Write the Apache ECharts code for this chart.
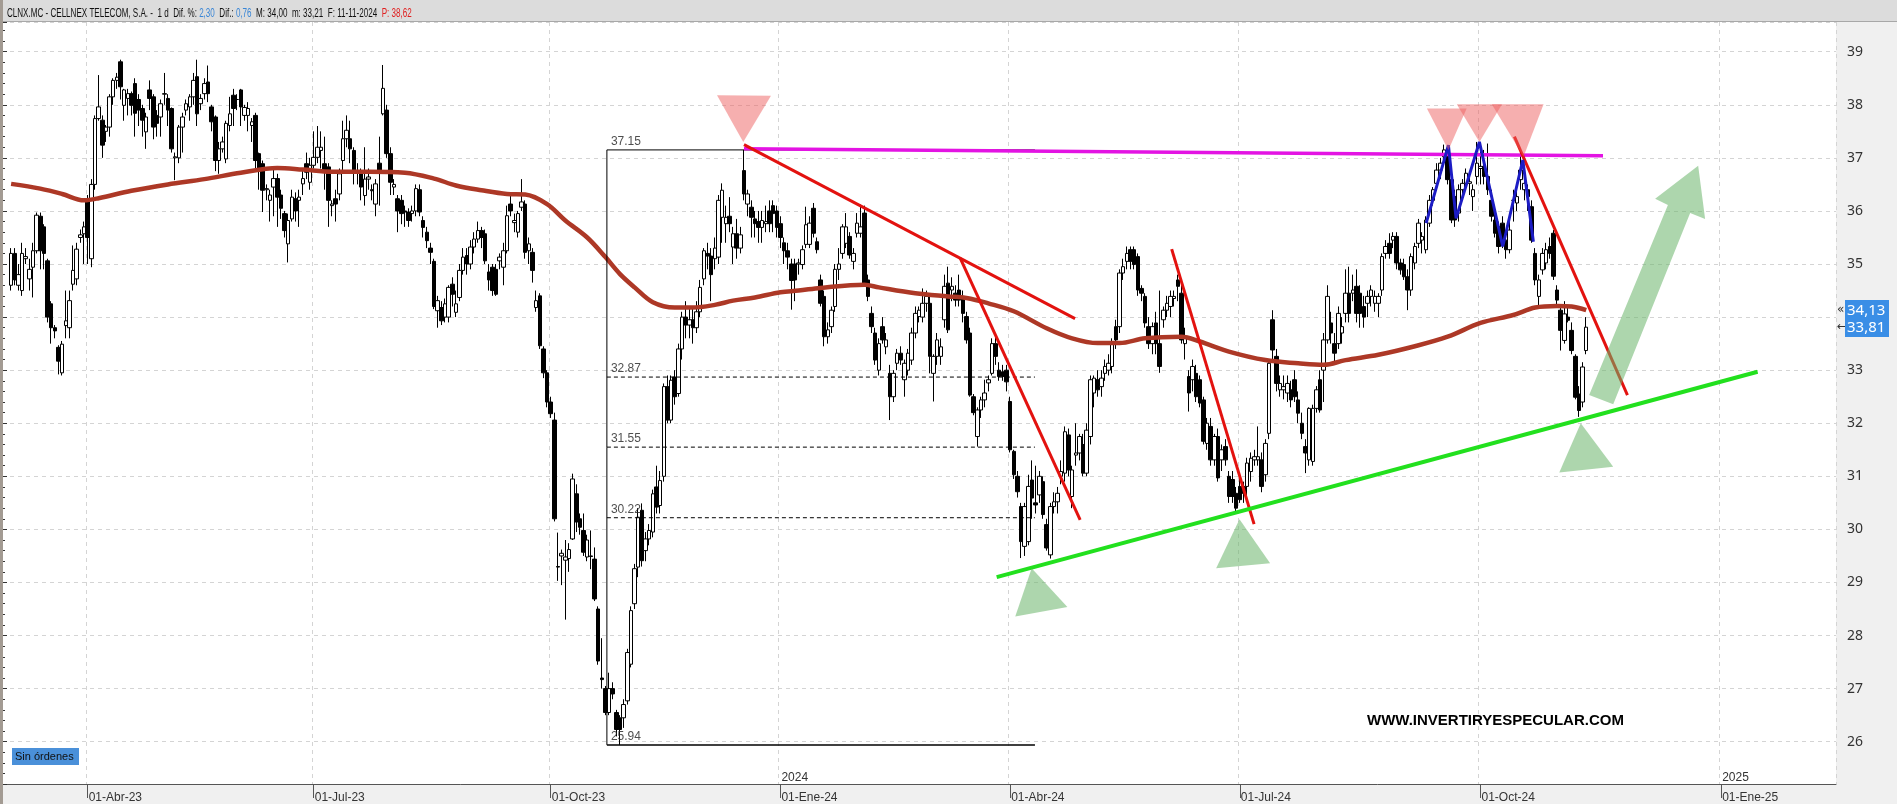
<!DOCTYPE html>
<html><head><meta charset="utf-8">
<script src="https://cdn.jsdelivr.net/npm/echarts@6/dist/echarts.min.js"></script>
<style>html,body{margin:0;padding:0;background:#fff;overflow:hidden}#c{width:1897px;height:804px}</style>
</head><body><div id="c"></div>
<script>
// ---------- DATA ----------
const firstCandleDate = '2023-03-03';
const opens = [
34.6,35.2,34.6,34.5,35.1,34.72,34.94,35.25,35.9,35.7,
35.06,34.25,33.8,33.43,32.95,33.84,33.8,34.62,34.72,35.5,
35.57,36.2,35.1,36.5,37.74,37.71,37.5,37.58,38.15,38.46,
38.81,37.99,38.12,38.21,38.4,38.1,37.93,37.49,38.28,38.15,
37.8,37.77,38.2,38.12,37.93,37.0,37.0,37.58,37.9,37.96,
38.15,38.53,38.02,38.21,38.43,37.96,37.77,36.95,37.17,36.98,
37.61,38.18,38.1,38.28,37.8,37.8,37.61,37.8,37.08,36.89,
36.4,36.2,36.45,36.61,36.3,35.95,35.38,35.85,36.23,36.2,
36.51,36.89,36.54,36.86,37.01,37.14,36.89,36.83,36.1,36.23,
36.32,36.95,37.36,37.36,37.14,36.75,36.7,36.29,36.6,36.4,
36.13,36.9,37.83,37.9,37.08,36.45,36.23,36.2,36.0,35.98,
35.95,36.0,36.4,35.82,35.6,35.3,35.05,34.12,34.18,34.0,
34.0,34.62,34.09,34.37,34.88,35.16,35.0,35.32,35.47,35.63,
35.57,34.85,34.94,34.9,35.06,34.94,35.25,36.13,35.78,35.6,
36.07,36.13,35.25,35.22,34.18,34.4,33.4,32.95,32.4,32.06,
29.3,29.5,29.42,29.45,29.82,30.67,30.2,29.98,29.48,29.5,
29.44,28.5,27.2,27.0,26.55,27.0,26.55,26.45,26.45,26.77,
27.46,28.6,29.29,30.36,29.6,29.82,29.95,30.8,30.45,31.0,
32.69,32.06,32.87,32.56,33.4,34.0,33.85,33.95,33.8,34.1,
34.72,35.2,35.15,35.1,35.13,35.88,35.76,35.9,35.32,35.57,
35.3,36.76,36.13,36.07,35.85,35.8,35.69,35.76,36.0,36.1,
36.0,35.76,35.4,35.25,35.0,35.0,35.0,34.99,35.37,35.37,
36.05,35.42,34.7,34.39,33.63,33.82,34.2,34.9,35.2,35.39,
35.52,35.05,35.58,35.58,35.96,34.7,34.07,33.7,33.0,33.82,
33.44,32.94,32.5,33.13,33.32,32.82,33.0,33.19,33.7,34.01,
34.0,34.26,34.26,32.94,33.26,33.26,33.95,34.64,34.51,34.45,
34.51,34.39,34.01,33.7,32.5,31.75,32.25,32.44,32.76,32.94,
33.5,33.0,32.97,33.0,32.41,31.47,31.0,30.43,29.68,29.77,
30.93,30.5,30.65,30.9,30.09,29.52,30.43,30.52,31.0,31.06,
31.78,30.62,31.4,31.44,31.6,31.06,31.75,32.57,32.82,32.69,
32.94,33.0,33.07,33.82,33.82,34.83,35.05,35.27,35.27,35.14,
34.54,34.39,33.82,33.5,33.89,33.5,33.95,34.13,34.2,34.35,
34.7,34.45,33.5,32.88,32.82,32.94,32.82,32.44,31.62,31.94,
31.31,31.75,31.31,31.56,31.0,30.94,30.68,30.81,30.81,30.81,
31.09,31.31,31.31,31.31,31.03,31.81,33.95,33.26,32.63,32.63,
32.57,32.63,32.82,32.44,32.0,31.56,31.31,31.28,32.28,32.82,
33.0,33.57,33.89,33.5,33.5,33.7,34.07,34.45,34.45,34.58,
34.45,34.2,34.26,34.39,34.26,34.26,34.51,35.2,35.39,35.45,
35.52,35.02,34.99,34.76,34.51,35.02,35.39,35.45,35.27,35.77,
36.2,36.52,36.77,37.02,37.03,36.59,36.27,35.96,36.4,36.52,
36.52,36.27,36.65,36.8,36.84,36.65,36.2,35.83,35.7,35.77,
35.45,35.27,36.2,36.15,36.59,36.4,36.4,36.08,35.2,34.39,
34.89,35.02,35.33,35.58,34.51,34.13,33.56,34.0,33.75,33.26,
32.55,32.4,33.37];
const highs = [
35.3,35.3,35.0,35.4,35.3,35.1,35.4,35.97,35.97,35.75,
35.1,34.3,33.85,33.47,33.55,34.5,34.5,35.35,35.4,35.65,
35.8,36.3,36.6,37.8,38.56,37.8,37.62,38.2,38.5,38.6,
38.85,38.3,38.3,38.25,38.5,38.2,38.0,37.85,38.46,38.2,
37.9,38.1,38.6,38.2,37.95,37.1,37.62,37.85,38.1,38.2,
38.6,38.85,38.2,38.5,38.74,38.0,37.8,37.3,37.4,37.7,
38.15,38.3,38.2,38.3,38.0,38.05,37.75,37.85,37.1,36.95,
36.5,36.4,36.8,36.7,36.4,36.0,35.95,36.4,36.35,36.4,
36.8,37.1,37.0,37.5,37.6,37.5,37.4,36.9,36.2,36.4,
36.8,37.7,37.8,37.7,37.2,36.9,36.8,37.2,36.8,36.5,
36.6,37.4,38.75,38.0,37.2,36.6,36.3,36.3,36.1,36.05,
36.1,36.5,36.5,35.9,35.7,35.4,35.1,34.4,34.3,34.35,
34.6,34.75,34.5,35.0,35.3,35.3,35.45,35.6,35.8,35.7,
35.65,35.0,35.0,35.0,35.2,35.4,36.1,36.3,35.95,36.0,
36.6,36.2,35.5,35.3,34.5,34.45,33.45,33.0,32.5,32.2,
29.94,29.62,29.8,29.74,31.05,30.85,30.3,30.3,29.9,29.98,
29.66,28.55,27.95,27.05,27.3,27.12,26.6,26.5,26.8,27.75,
28.55,29.35,30.4,30.49,29.95,30.1,30.75,31.2,31.1,32.75,
32.9,32.9,33.0,33.5,34.1,34.3,34.2,34.2,34.3,34.7,
35.3,35.4,35.3,35.5,36.3,36.52,36.1,36.26,35.7,35.85,
35.7,37.15,36.4,36.2,36.0,36.0,36.0,36.1,36.2,36.2,
36.1,35.9,35.5,35.4,35.1,35.1,35.1,35.35,36.08,35.9,
36.15,35.5,34.8,34.5,33.9,34.2,35.0,35.3,35.75,35.96,
35.6,35.3,35.96,36.12,36.1,34.8,34.2,33.8,33.6,34.0,
33.7,33.1,33.0,33.4,33.45,33.2,33.4,33.8,34.2,34.2,
34.54,34.5,34.4,33.3,33.7,33.6,34.8,34.95,34.75,34.6,
34.8,34.5,34.1,33.8,32.55,32.3,32.5,32.82,32.9,33.6,
33.7,33.15,33.1,33.1,32.5,31.5,31.1,30.5,30.5,31.03,
31.3,31.2,31.1,31.0,30.2,30.5,30.7,30.8,31.3,31.94,
31.9,31.2,32.0,31.8,31.8,32.0,32.9,32.9,33.0,33.0,
33.2,33.3,33.6,33.95,34.9,35.1,35.33,35.33,35.33,35.2,
34.6,34.45,34.0,33.9,34.1,34.5,34.2,34.4,34.5,34.5,
34.8,34.7,33.8,33.0,33.2,33.1,32.9,32.5,32.1,32.1,
31.8,31.9,31.6,31.7,31.1,31.1,30.8,31.0,30.9,31.35,
31.45,31.5,31.94,31.45,31.7,33.2,34.13,33.4,32.9,32.9,
32.9,32.8,33.0,32.6,32.2,31.7,32.3,32.35,32.7,33.0,
33.7,34.6,34.1,33.7,34.2,34.0,34.9,34.95,34.8,34.9,
34.6,34.4,34.5,34.6,34.5,34.45,35.2,35.45,35.58,35.6,
35.6,35.1,35.1,34.9,35.2,35.4,35.85,35.6,35.9,36.3,
36.45,36.9,37.0,37.25,37.1,36.7,36.4,36.5,36.6,36.8,
36.75,36.5,37.3,37.2,37.15,37.27,36.4,36.0,35.8,35.9,
35.6,35.8,36.4,36.5,37.1,36.6,36.5,36.2,35.3,34.8,
35.3,35.4,35.5,35.64,34.6,34.2,34.3,34.2,33.9,33.3,
32.7,33.15,34.0];
const lows = [
34.5,34.6,34.5,34.4,35.0,34.5,34.37,35.2,34.9,34.9,
33.9,33.5,33.6,32.92,32.9,33.6,33.6,34.5,34.6,35.4,
35.0,35.0,34.94,36.4,37.7,37.0,37.3,37.4,38.0,38.3,
38.1,37.7,37.8,37.8,37.4,37.6,37.4,37.17,37.9,37.35,
37.4,37.4,38.0,37.6,37.1,36.58,36.9,37.1,37.8,37.7,
38.0,37.6,37.9,38.1,38.05,37.5,36.75,36.7,37.1,36.9,
37.5,37.6,37.9,37.6,37.7,37.5,37.3,36.8,36.4,35.98,
36.2,35.8,35.9,35.7,35.85,35.5,35.03,35.8,35.8,35.7,
36.3,36.6,36.4,36.8,36.9,36.8,36.4,35.7,35.9,35.8,
36.2,36.7,37.2,36.9,36.5,36.5,36.2,36.1,36.4,36.2,
35.9,36.1,37.8,37.0,36.3,36.3,35.6,35.75,35.7,35.7,
35.8,35.9,35.9,35.5,35.3,35.0,34.15,33.8,33.85,33.9,
33.9,34.2,34.0,34.3,34.8,34.8,34.9,35.2,35.4,35.3,
35.0,34.5,34.4,34.4,34.9,34.6,35.2,35.9,35.6,35.5,
36.0,35.1,35.0,34.65,34.1,33.4,32.85,32.3,32.1,30.15,
29.03,28.95,28.3,29.2,29.8,29.95,29.9,29.5,29.4,29.25,
28.65,27.45,27.0,26.5,26.5,26.8,26.1,25.94,26.26,26.7,
27.4,28.5,29.1,29.3,29.4,29.7,29.85,30.3,30.3,30.9,
32.0,32.0,32.35,32.5,33.2,33.6,33.6,33.5,33.7,34.0,
34.6,34.9,34.3,34.9,35.0,35.4,35.4,35.6,35.0,35.1,
35.2,36.2,35.9,35.5,35.5,35.4,35.4,35.6,35.6,35.6,
35.5,35.3,35.0,34.9,34.14,34.3,34.8,34.9,35.3,35.3,
35.5,35.2,34.2,33.45,33.5,33.7,34.1,34.7,35.1,35.3,
35.1,34.9,35.5,35.5,34.6,34.3,33.7,33.1,32.9,33.5,
33.3,32.06,32.4,33.0,33.1,32.5,32.9,33.1,33.6,33.9,
33.9,34.1,32.94,32.41,33.1,33.1,33.8,33.7,34.3,34.2,
34.2,33.9,33.5,32.5,32.15,31.56,32.1,32.3,32.6,32.9,
33.1,32.8,32.8,32.6,31.45,30.95,30.6,29.46,29.5,29.7,
30.2,30.3,30.5,30.2,29.6,29.45,30.3,30.3,30.85,30.9,
31.0,30.4,31.2,31.3,31.0,31.0,31.6,32.3,32.5,32.5,
32.8,32.9,32.94,33.4,33.7,34.7,34.9,34.9,34.9,34.4,
34.3,33.8,33.4,33.3,33.3,32.95,33.8,34.0,34.0,34.2,
34.3,33.5,33.2,32.22,32.6,32.4,32.3,31.6,31.5,31.2,
31.2,30.9,31.1,31.2,30.5,30.5,30.3,30.5,30.5,30.6,
30.9,31.2,31.2,30.7,30.9,31.7,33.2,32.6,32.5,32.45,
32.4,32.3,32.4,32.0,31.7,31.06,31.2,31.2,32.2,32.2,
32.4,33.5,33.5,33.1,33.4,33.5,33.9,33.9,34.3,33.9,
33.8,33.8,34.0,34.2,34.1,34.0,34.4,35.1,35.1,35.3,
34.9,34.8,34.7,34.13,34.4,34.9,35.3,35.2,35.2,35.7,
36.1,36.4,36.6,36.9,36.5,35.77,35.7,35.8,36.2,36.4,
36.3,36.0,36.5,36.5,36.5,36.3,35.8,35.5,35.2,35.3,
35.1,35.2,35.8,36.0,36.4,36.2,36.0,35.4,34.6,34.2,
34.8,34.9,35.1,34.7,34.2,33.37,33.5,33.9,33.3,32.45,
32.12,32.3,33.3];
const closes = [
35.2,34.7,34.8,35.2,35.14,34.9,35.25,35.92,35.25,35.2,
34.0,33.8,33.74,33.17,33.49,33.93,34.31,34.88,35.28,35.55,
35.7,35.5,36.5,37.74,37.96,37.24,37.58,38.15,38.46,38.52,
38.34,38.28,38.21,37.99,37.84,37.9,37.71,37.77,38.12,37.58,
37.65,38.02,38.21,37.9,37.17,37.02,37.58,37.77,38.02,38.15,
38.46,37.83,38.12,38.4,38.21,37.68,36.95,37.17,37.3,37.65,
37.83,37.93,38.1,37.96,37.95,37.93,37.68,36.95,36.76,36.39,
36.42,36.3,36.61,36.26,36.05,35.63,35.82,36.26,36.0,36.26,
36.61,36.73,36.86,37.01,37.2,37.2,36.76,36.2,36.13,36.13,
36.7,37.36,37.52,37.17,36.76,36.73,36.45,36.6,36.64,36.38,
36.51,36.76,38.31,37.08,36.54,36.5,36.0,35.95,35.98,35.82,
36.0,36.42,35.98,35.69,35.44,35.22,34.2,34.31,33.93,34.25,
34.56,34.43,34.25,34.88,35.13,35.0,35.32,35.47,35.63,35.5,
35.06,34.7,34.5,34.43,35.13,35.25,35.91,36.0,35.82,35.95,
36.17,35.22,35.38,34.88,34.31,33.46,32.95,32.4,32.18,30.2,
29.29,29.55,29.48,29.62,30.95,30.14,30.04,29.57,29.8,29.49,
28.69,27.52,27.17,26.55,27.0,26.9,26.23,26.23,26.7,27.68,
28.47,29.26,30.23,29.41,29.82,29.98,30.67,30.42,30.92,32.69,
32.06,32.81,32.5,33.4,34.0,33.85,33.95,33.8,34.1,34.56,
35.25,35.15,34.8,35.3,36.2,36.39,35.88,35.76,35.57,35.3,
35.55,36.32,36.32,35.88,35.76,35.69,35.82,35.8,35.76,35.95,
35.69,35.5,35.25,35.13,34.69,34.7,35.02,35.27,35.74,35.77,
35.58,35.27,34.26,33.63,33.76,34.13,34.9,35.0,35.7,35.7,
35.17,35.2,35.77,35.7,34.64,34.39,33.82,33.19,33.5,33.57,
33.57,32.5,32.94,33.32,33.19,33.13,33.32,33.7,34.07,34.13,
34.26,34.39,33.26,33.26,33.57,33.44,34.58,33.76,34.58,34.32,
34.32,34.07,33.57,32.53,32.2,32.25,32.44,32.57,32.82,33.5,
33.26,32.88,32.88,32.78,31.5,31.03,30.71,29.77,30.43,30.81,
30.59,30.46,31.0,30.28,29.65,30.43,30.52,30.68,31.09,31.84,
31.12,31.12,31.44,31.75,31.06,31.87,32.82,32.85,32.63,32.85,
33.07,33.13,33.5,33.57,34.83,34.95,35.2,35.05,34.99,34.51,
34.45,33.89,33.5,33.82,33.5,33.07,34.13,34.26,34.39,34.39,
34.58,33.57,33.63,32.57,33.07,32.5,32.38,31.66,32.0,31.31,
31.75,30.97,31.5,31.31,30.62,30.62,30.4,30.56,30.68,31.25,
31.34,31.37,31.37,30.81,31.62,33.13,33.38,32.75,32.75,32.69,
32.75,32.44,32.5,32.19,31.81,31.44,32.28,32.28,32.63,32.25,
33.57,34.39,33.7,33.32,34.07,33.82,34.45,34.07,34.51,34.07,
34.07,34.0,34.39,34.51,34.39,34.39,35.14,35.33,35.2,35.52,
35.02,34.89,34.76,34.51,35.14,35.33,35.77,35.52,35.83,36.2,
36.4,36.77,36.9,37.15,36.59,35.83,35.83,36.4,36.52,36.71,
36.55,36.4,36.9,36.84,36.65,36.4,35.9,35.58,35.33,35.39,
35.27,35.64,36.2,36.27,36.77,36.52,36.27,35.45,34.7,34.7,
35.2,35.27,35.2,34.77,34.32,33.75,34.06,33.94,33.37,32.49,
32.24,33.06,33.81];

// 200-session moving average, read at sampled sessions (category index from 01-Mar-2023)
const maIndex = [2,10,16,22,26,35,45,55,65,75,82,90,100,110,118,124,131,138,143,149,154,160,165,169,173,178,184,189,195,200,206,213,218,224,236,240,250,259,264,270,277,286,293,300,306,313,323,328,336,346,355,362,368,377,387,396,405,414,420,426,430,434];
const maValue = [36.51,36.42,36.32,36.2,36.24,36.38,36.5,36.6,36.72,36.81,36.78,36.74,36.74,36.72,36.61,36.48,36.39,36.32,36.31,36.13,35.82,35.5,35.13,34.81,34.56,34.28,34.18,34.18,34.23,34.31,34.37,34.47,34.5,34.55,34.61,34.56,34.45,34.39,34.36,34.26,34.11,33.79,33.6,33.51,33.51,33.6,33.63,33.54,33.35,33.19,33.13,33.1,33.19,33.29,33.45,33.63,33.89,34.04,34.18,34.21,34.2,34.13];

// Retracement box (levels and session span)
const fibLevels = [37.15, 32.87, 31.55, 30.22, 25.94];
const fibSpan = [165.9, 283.3];

// Drawn annotations, in [session, price]
const redLines = [[[203.5,37.25],[294.3,33.97]],[[262.8,35.11],[295.7,30.18]],[[320.8,35.28],[343.4,30.10]],[[414.8,37.40],[445.8,32.53]]];
const magentaLine = [[203.5,37.17],[439.1,37.04]];
const greenLine = [[272.8,29.10],[481.5,32.97]];
const blueZigzag = [[390.6,35.77],[396.7,37.24],[398.8,35.86],[405.2,37.30],[411.6,35.33],[417.1,36.96],[420.0,35.42]];
const redTriangles = [
 [[196.1,38.18],[210.9,38.17],[203.3,37.30]],
 [[390.8,37.93],[401.7,37.93],[396.7,37.15]],
 [[399.0,38.01],[411.4,38.01],[405.2,37.30]],
 [[408.6,38.01],[422.8,38.01],[417.3,37.02]]];
const greenTriangles = [
 [[282.4,29.27],[292.2,28.54],[277.9,28.36]],
 [[339.4,30.19],[347.8,29.36],[333.0,29.27]],
 [[433.0,32.0],[441.9,31.18],[427.1,31.07]]];
const greenArrow = [[435.3,32.53],[456.9,36.11],[453.4,36.23],[465.2,36.85],[467.1,35.85],[463.0,35.96],[441.9,32.36]];
const priceTags = [[34.13,'34,13','«'],[33.81,'33,81','←']];

// ---------- CALENDAR ----------
const holidays = new Set(['2023-04-07','2023-04-10','2023-05-01','2023-12-25','2023-12-26','2024-01-01','2024-03-29','2024-04-01','2024-05-01']);
const axisStart = '2023-03-01', axisEnd = '2025-02-13';
const dates = [];
{
  const d = new Date(axisStart + 'T00:00:00Z');
  while (true) {
    const s = d.toISOString().slice(0,10);
    if (s > axisEnd) break;
    const wd = d.getUTCDay();
    if (wd !== 0 && wd !== 6 && !holidays.has(s)) dates.push(s);
    d.setUTCDate(d.getUTCDate()+1);
  }
}
const mesES = ['Ene','Feb','Mar','Abr','May','Jun','Jul','Ago','Sep','Oct','Nov','Dic'];
function isQStart(i){ if(i<=0) return false; const m=+dates[i].slice(5,7), pm=+dates[i-1].slice(5,7); return m!==pm && (m-1)%3===0; }
function isYStart(i){ if(i<=0) return false; return dates[i].slice(0,4)!==dates[i-1].slice(0,4); }
const off = dates.indexOf(firstCandleDate);
const candleData = dates.map((d,i)=>{ const k=i-off; return (k>=0 && k<closes.length)? [opens[k],closes[k],lows[k],highs[k]] : '-'; });

// ---------- CHART ----------
const chart = echarts.init(document.getElementById('c'), null, {renderer:'canvas'});
const Y_MIN = 25.203, Y_MAX = 39.56;
const labelFont = "'Liberation Sans', Arial, sans-serif";

function lineSeries(pts, color, width, extra){
  return Object.assign({type:'line', xAxisIndex:2, yAxisIndex:0, data:pts, symbol:'none', silent:true,
    lineStyle:{color:color, width:width}, z:5, animation:false}, extra||{});
}
function polySeries(shapes, fill, z){
  return {type:'custom', xAxisIndex:2, yAxisIndex:0, silent:true, z:z, animation:false,
    data: shapes.map((s,i)=>[s[0][0], s[0][1], i]),
    encode:{x:0,y:1},
    renderItem:(params, api)=>{
      const s = shapes[api.value(2)];
      return {type:'polygon', shape:{points:s.map(p=>api.coord(p))}, style:{fill:fill}};
    }};
}

const series = [];
series.push({type:'candlestick', name:'CLNX', xAxisIndex:0, yAxisIndex:0, data:candleData, barWidth:4, z:3,
  itemStyle:{color:'#ffffff', color0:'#000000', borderColor:'#000000', borderColor0:'#000000', borderWidth:1}});
series.push({type:'line', name:'MA200', xAxisIndex:2, yAxisIndex:0, data:maIndex.map((x,j)=>[x+0.5, maValue[j]]), smooth:0.35, symbol:'none', z:4,
  lineStyle:{color:'#ad3826', width:4.5}});
// retracement box
series.push(lineSeries([[fibSpan[0],fibLevels[0]],[fibSpan[1],fibLevels[0]]],'#000',1,{z:4}));
series.push(lineSeries([[fibSpan[0],fibLevels[4]],[fibSpan[1],fibLevels[4]]],'#000',1.5,{z:4}));
series.push(lineSeries([[fibSpan[0],fibLevels[0]],[fibSpan[0],fibLevels[4]]],'#000',1,{z:4}));
for (let j=1;j<4;j++) series.push(lineSeries([[fibSpan[0],fibLevels[j]],[fibSpan[1],fibLevels[j]]],'#000',1,{z:4, lineStyle:{color:'#000',width:1,type:[4,3]}}));
series.push({type:'scatter', xAxisIndex:2, yAxisIndex:0, symbolSize:0, silent:true, z:6,
  data: fibLevels.map(v=>[fibSpan[0], v, v.toFixed(2)]),
  label:{show:true, position:'right', distance:4, offset:[0,-8], formatter:p=>p.value[2], color:'#222', fontSize:12, fontFamily:labelFont}});
// drawn lines
series.push(lineSeries(magentaLine,'#e313e3',3.5,{z:6}));
redLines.forEach(l=>series.push(lineSeries(l,'#e3120f',3,{z:7})));
series.push(lineSeries(greenLine,'#22e01e',4,{z:7}));
series.push(lineSeries(blueZigzag,'#1c1cc4',3,{z:7}));
series.push(polySeries(redTriangles,'rgba(238,95,95,0.5)',8));
series.push(polySeries(greenTriangles,'rgba(105,180,105,0.55)',8));
series.push(polySeries([greenArrow],'rgba(105,180,105,0.55)',8));

const baseGraphics = [
    {id:'panelR', type:'rect', z:-10, silent:true, shape:{x:1836, y:0, width:61, height:804}, style:{fill:'#f0f0f0'}},
    {id:'panelB', type:'rect', z:-10, silent:true, shape:{x:0, y:784, width:1897, height:20}, style:{fill:'#f0f0f0'}},
    {id:'titleBg', type:'rect', z:100, silent:true, shape:{x:0, y:0, width:1897, height:22}, style:{fill:'#dcdcdc'}},
    {id:'titleLn', type:'rect', z:100, silent:true, shape:{x:0, y:21, width:1897, height:1}, style:{fill:'#a8a8a8'}},
    {id:'frameL', type:'rect', z:100, silent:true, shape:{x:0, y:0, width:3, height:804}, style:{fill:'#a39b93'}},
    {id:'title', type:'text', z:101, silent:true, x:7, y:13, scaleX:0.62,
     style:{text:'CLNX.MC - CELLNEX TELECOM, S.A. -  1 d  Dif. %: {b|2,30}  Dif.: {b|0,76}  M: 34,00  m: 33,21  F: 11-11-2024  {r|P: 38,62}',
       fill:'#111', font:"13px 'Liberation Sans', Arial, sans-serif", verticalAlign:'middle',
       rich:{b:{fill:'#3a86d6', font:"13px 'Liberation Sans', Arial, sans-serif"}, r:{fill:'#e02020', font:"13px 'Liberation Sans', Arial, sans-serif"}}}},
    {id:'sinBg', type:'rect', z:50, silent:true, shape:{x:12, y:748, width:67, height:17}, style:{fill:'#4a90d9'}},
    {id:'sinTx', type:'text', z:51, silent:true, x:15, y:757, style:{text:'Sin órdenes', fill:'#111', font:"11px 'Liberation Sans', Arial, sans-serif", verticalAlign:'middle'}},
    {id:'www', type:'text', z:51, silent:true, x:1367, y:721, style:{text:'WWW.INVERTIRYESPECULAR.COM', fill:'#000', font:"bold 15px 'Liberation Sans', Arial, sans-serif", verticalAlign:'middle'}}
];

const option = {
  animation:false,
  backgroundColor:'#ffffff',
  grid:{left:2, right:61, top:22, bottom:20, outerBoundsMode:'none', containLabel:false},
  xAxis:[
    {type:'category', data:dates, boundaryGap:true, gridIndex:0,
     axisLine:{show:true, lineStyle:{color:'#555', width:1}},
     axisTick:{show:true, interval:(i)=>isQStart(i), alignWithLabel:true, length:14, lineStyle:{color:'#555'}},
     axisLabel:{show:true, interval:(i)=>isQStart(i), align:'left', margin:8, fontSize:12, color:'#333', fontFamily:labelFont, padding:[0,0,0,1],
       formatter:(v)=>'01-'+mesES[+v.slice(5,7)-1]+'-'+v.slice(2,4)},
     splitLine:{show:true, interval:(i)=>isQStart(i), lineStyle:{type:[4,4], color:'#d4d4d4'}}},
    {type:'category', data:dates, boundaryGap:true, gridIndex:0, position:'bottom',
     axisLine:{show:false}, axisTick:{show:false}, splitLine:{show:false},
     axisLabel:{show:true, inside:true, interval:(i)=>isYStart(i), align:'left', margin:0, fontSize:12, color:'#333', fontFamily:labelFont, padding:[0,0,0,1],
       formatter:(v)=>v.slice(0,4)}},
    {type:'value', gridIndex:0, min:0, max:dates.length, show:false}
  ],
  yAxis:[{type:'value', position:'right', min:Y_MIN, max:Y_MAX, splitNumber:14, minInterval:1, maxInterval:1,
    axisLine:{show:true, lineStyle:{color:'#333'}},
    axisTick:{show:true, length:5, lineStyle:{color:'#333'}},
    minorTick:{show:true, splitNumber:5, length:3, lineStyle:{color:'#333'}},
    axisLabel:{showMinLabel:false, showMaxLabel:false, fontSize:14, color:'#333', margin:11, fontFamily:"'Noto Sans', 'Open Sans', sans-serif"},
    splitLine:{show:true, lineStyle:{type:[4,4], color:'#d4d4d4'}}}],
  series: series,
  graphic: baseGraphics
};
chart.setOption(option);

// last-value tags on the price scale, placed through the axis scales
(function(){
  const xr = chart.convertToPixel({xAxisIndex:2}, dates.length);
  const g = baseGraphics.slice();
  priceTags.forEach((t,i)=>{
    const y = chart.convertToPixel({yAxisIndex:0}, t[0]);
    g.push({id:'tagA'+i, type:'text', z:110+i*3, silent:true, x:xr+1, y:y, style:{text:t[2], fill:'#333', font:"12px 'DejaVu Sans', sans-serif", verticalAlign:'middle'}});
    g.push({id:'tagB'+i, type:'rect', z:111+i*3, silent:true, shape:{x:xr+9, y:Math.round(y)-10, width:44, height:20}, style:{fill:'#3a8ee6'}});
    g.push({id:'tagT'+i, type:'text', z:112+i*3, silent:true, x:xr+11, y:y+0.5, style:{text:t[1], fill:'#ffffff', font:"15px 'Noto Sans', 'Open Sans', sans-serif", verticalAlign:'middle'}});
  });
  chart.setOption({graphic:g}, {replaceMerge:['graphic']});
})();
</script>
</body></html>
